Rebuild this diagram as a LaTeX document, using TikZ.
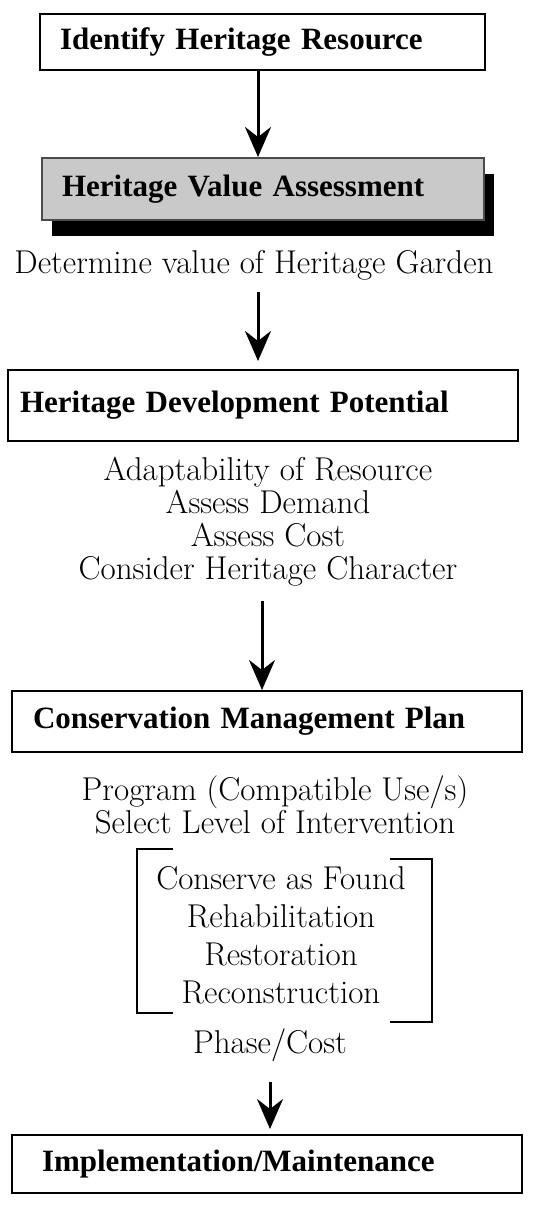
\documentclass[tikz,border=0pt]{standalone}
\usepackage{fontspec}
\newfontfamily\headfont{Liberation Serif}
\usepackage{tikz}
\usetikzlibrary{positioning, arrows.meta, shadows}

\tikzset{
  stagebox/.style={draw=black, line width=1pt, fill=white, inner ysep=0pt, align=left,
    font=\fontsize{15.5}{17}\selectfont\headfont\bfseries},
  valuebox/.style={stagebox, fill=gray!42, draw=gray!60!black,
    drop shadow={shadow xshift=5pt, shadow yshift=-8pt, fill=black, opacity=1}},
  note/.style={align=center, inner sep=0pt, font=\fontsize{16.5}{16.5}\selectfont},
  flow/.style={line width=1.5pt, -{Stealth[length=15pt, width=13pt, inset=5pt]}},
  bracket/.style={line width=1pt}
}

\begin{document}
\begin{tikzpicture}[x=0.5pt, y=-0.5pt]
  \useasboundingbox (0,0) rectangle (540,1210);

  % Identify the resource
  \node[stagebox, inner xsep=10pt, text width=202.5pt, minimum height=28pt] (identify) at (262.5,42)
    {Identify Heritage Resource};

  % Value assessment (shaded box)
  \node[valuebox, inner xsep=10pt, text width=201pt, minimum height=31pt] (assess) at (263,189)
    {Heritage Value Assessment};
  \node[note] (determine) at (254,265) {Determine value of Heritage Garden};

  % Development potential
  \node[stagebox, inner xsep=6pt, text width=243pt, minimum height=35.5pt] (potential) at (263,405.5)
    {Heritage Development Potential};
  \node[note] (criteria) at (268,522)
    {Adaptability of Resource\\Assess Demand\\Assess Cost\\Consider Heritage Character};

  % Management plan
  \node[stagebox, inner xsep=10.5pt, text width=234pt, minimum height=30.5pt] (plan) at (267,721.5)
    {Conservation Management Plan};
  \node[note] (program) at (275,805)
    {Program (Compatible Use/s)\\Select Level of Intervention};
  \node[note, font=\fontsize{16.5}{19}\selectfont] (levels) at (281,935)
    {Conserve as Found\\Rehabilitation\\Restoration\\Reconstruction};
  \node[note] (phase) at (270,1045) {Phase/Cost};

  % Brackets round the intervention levels
  \draw[bracket] (173,849) -- (137,849) -- (137,1013) -- (173,1013);
  \draw[bracket] (390,859) -- (432,859) -- (432,1022) -- (390,1022);

  % Implementation
  \node[stagebox, inner xsep=15pt, text width=225pt, minimum height=29pt] (implement) at (267,1164)
    {Implementation/Maintenance};

  % Arrows
  \draw[flow] (identify.south -| 258,0) -- (assess.north -| 258,0);
  \draw[flow, shorten <=6pt, shorten >=4pt] (determine.south -| 258,0) -- (potential.north -| 258,0);
  \draw[flow, shorten <=7pt] (criteria.south -| 262,0) -- (plan.north -| 262,0);
  \draw[flow, shorten <=10pt, shorten >=2.5pt] (phase.south -| 270,0) -- (implement.north -| 270,0);
\end{tikzpicture}
\end{document}
